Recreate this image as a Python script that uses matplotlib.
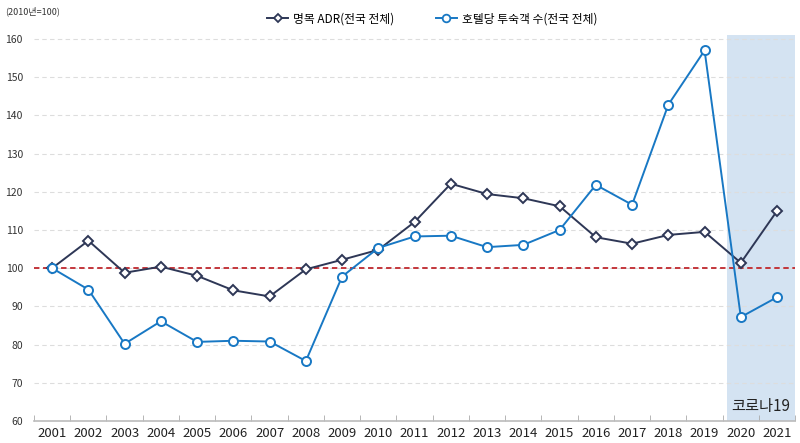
import matplotlib.pyplot as plt
from matplotlib.lines import Line2D

plt.rcParams['font.family'] = ['Noto Sans CJK KR', 'DejaVu Sans']

years = [str(y) for y in range(2001, 2022)]
adr = [100.0, 107.2, 98.8, 100.4, 98.0, 94.2, 92.6, 99.7, 102.2, 104.8, 112.1,
       122.1, 119.4, 118.3, 116.2, 108.1, 106.4, 108.7, 109.5, 101.4, 115.0]
guests = [100.0, 94.4, 80.2, 86.1, 80.7, 81.0, 80.8, 75.7, 97.8, 105.3, 108.3,
          108.5, 105.5, 106.1, 110.0, 121.8, 116.6, 142.8, 157.0, 87.2, 92.4]
adr_label = '명목 ADR(전국 전체)'
guest_label = '호텔당 투숙객 수(전국 전체)'
yticks = list(range(60, 161, 10))

navy = '#2e3756'
blue = '#1878c4'

fig = plt.figure(figsize=(8, 4.43), dpi=100)
ax = fig.add_axes([0.0425, 0.0497, 0.9515, 0.871])

x = list(range(len(years)))
ax.axvspan(18.62, 20.5, color='#d4e3f2', zorder=0, lw=0)
ax.axhline(100, color='#c0282d', ls=(0, (3, 2)), lw=1.3, zorder=1)

ax.plot(x, adr, color=navy, lw=1.4, marker='D', ms=5.5, mfc='white',
        mec=navy, mew=1.4, zorder=3)
ax.plot(x, guests, color=blue, lw=1.4, marker='o', ms=6.5, mfc='white',
        mec=blue, mew=1.4, zorder=3)

ax.set_xlim(-0.5, 20.5)
ax.set_ylim(60, 161)
ax.set_yticks(yticks)
ax.set_yticklabels([str(v) for v in yticks], fontsize=7.5, color='#333333')
for v in yticks[1:]:
    ax.axhline(v, color='#dddddd', ls=(0, (4, 3)), lw=0.8, zorder=0.5)

ax.set_xticks(x)
ax.set_xticklabels(years, fontsize=9.5, color='#222222')
ax.set_xticks([i - 0.5 for i in range(len(years) + 1)], minor=True)
ax.tick_params(axis='x', which='major', length=0, pad=4)
ax.tick_params(axis='x', which='minor', length=4, direction='in', color='#aaaaaa')
ax.tick_params(axis='y', length=0, pad=8)

for s in ['top', 'right', 'left']:
    ax.spines[s].set_visible(False)
ax.spines['bottom'].set_color('#bbbbbb')
ax.spines['bottom'].set_linewidth(1.2)

ax.text(19.55, 63.8, '코로나19', ha='center', va='center', fontsize=11, color='#222222')
fig.text(0.006, 0.975, '(2010년=100)', fontsize=6.5, color='#333333', va='center')

handles = [
    Line2D([], [], color=navy, lw=1.4, marker='D', ms=4.5, mfc='white', mec=navy, mew=1.3),
    Line2D([], [], color=blue, lw=1.4, marker='o', ms=5.5, mfc='white', mec=blue, mew=1.3),
]
fig.legend(handles, [adr_label, guest_label], loc='center', bbox_to_anchor=(0.54, 0.958),
           ncol=2, frameon=False, fontsize=8.5, handlelength=1.8, columnspacing=3.5,
           handletextpad=0.4)

fig.savefig('out.png', dpi=100)
